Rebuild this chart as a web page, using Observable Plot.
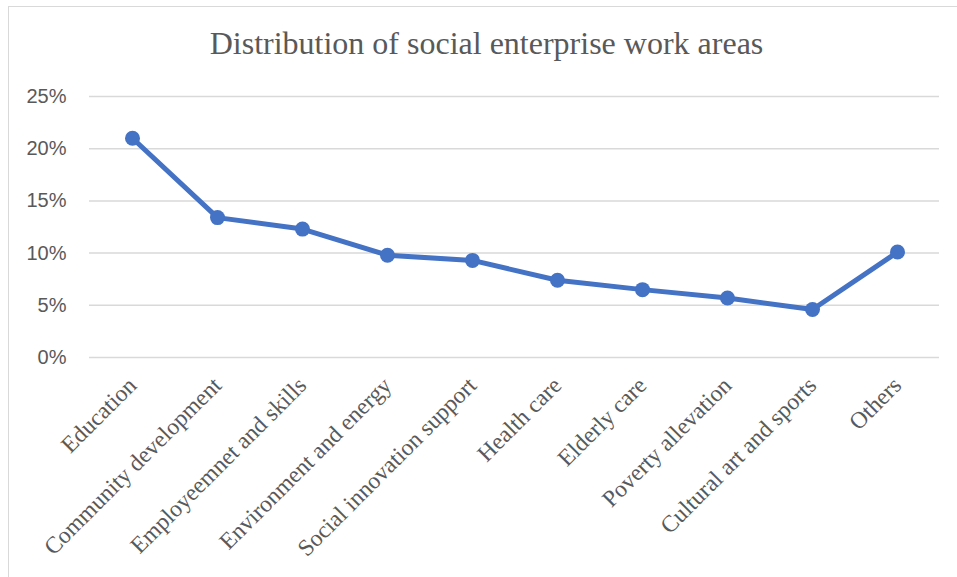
<!DOCTYPE html>
<html>
<head>
<meta charset="utf-8">
<script src="https://cdn.jsdelivr.net/npm/d3@7"></script>
<script src="https://cdn.jsdelivr.net/npm/@observablehq/plot@0.6"></script>
<style>
  html, body { margin: 0; padding: 0; background: #fff; }
  #wrap { position: relative; width: 957px; height: 577px; overflow: hidden; }
  #frame { position: absolute; left: 8px; top: 6px; width: 1000px; height: 1000px; border: 1px solid #d9d9d9; box-sizing: border-box; pointer-events: none; }
  #title { position: absolute; left: 8px; width: 957px; top: 25px; text-align: center;
           font-family: "Liberation Serif", "Times New Roman", serif; font-size: 32px; color: #595959; }
  #chart { position: absolute; left: 0; top: 0; }
</style>
</head>
<body>
<div id="wrap">
  <div id="frame"></div>
  <div id="title">Distribution of social enterprise work areas</div>
  <div id="chart"></div>
</div>
<script>
const categories = [
  "Education",
  "Community development",
  "Employeemnet and skills",
  "Environment and energy",
  "Social innovation support",
  "Health care",
  "Elderly care",
  "Poverty allevation",
  "Cultural art and sports",
  "Others"
];
const shares = [21.0, 13.4, 12.3, 9.8, 9.3, 7.4, 6.5, 5.7, 4.6, 10.1];
const yTicks = [0, 5, 10, 15, 20, 25];

const data = categories.map((c, i) => ({category: c, share: shares[i]}));

const chart = Plot.plot({
  width: 957,
  height: 577,
  marginLeft: 89,
  marginRight: 18,
  marginTop: 96,
  marginBottom: 220,
  style: {background: "transparent", overflow: "visible"},
  x: {domain: categories, type: "point", padding: 0.5},
  y: {domain: [0, 25]},
  marks: [
    Plot.gridY(yTicks, {stroke: "#d9d9d9", strokeOpacity: 1, strokeWidth: 1.5}),
    Plot.axisY(yTicks, {
      tickSize: 0, tickPadding: 23,
      tickFormat: d => d + "%",
      fontSize: 20, fill: "#595959",
      fontFamily: "Liberation Sans, Arial, sans-serif",
      label: null
    }),
    Plot.axisX({
      tickSize: 0, tickPadding: 24, tickRotate: -45, dx: 0,
      fontSize: 23.5, fill: "#595959",
      fontFamily: "Liberation Serif, Times New Roman, serif",
      label: null
    }),
    Plot.lineY(data, {x: "category", y: "share", stroke: "#4472C4", strokeWidth: 5, strokeLinejoin: "round"}),
    Plot.dot(data, {x: "category", y: "share", r: 7.5, fill: "#4472C4", stroke: "none"})
  ]
});
document.getElementById("chart").appendChild(chart);
</script>
</body>
</html>
